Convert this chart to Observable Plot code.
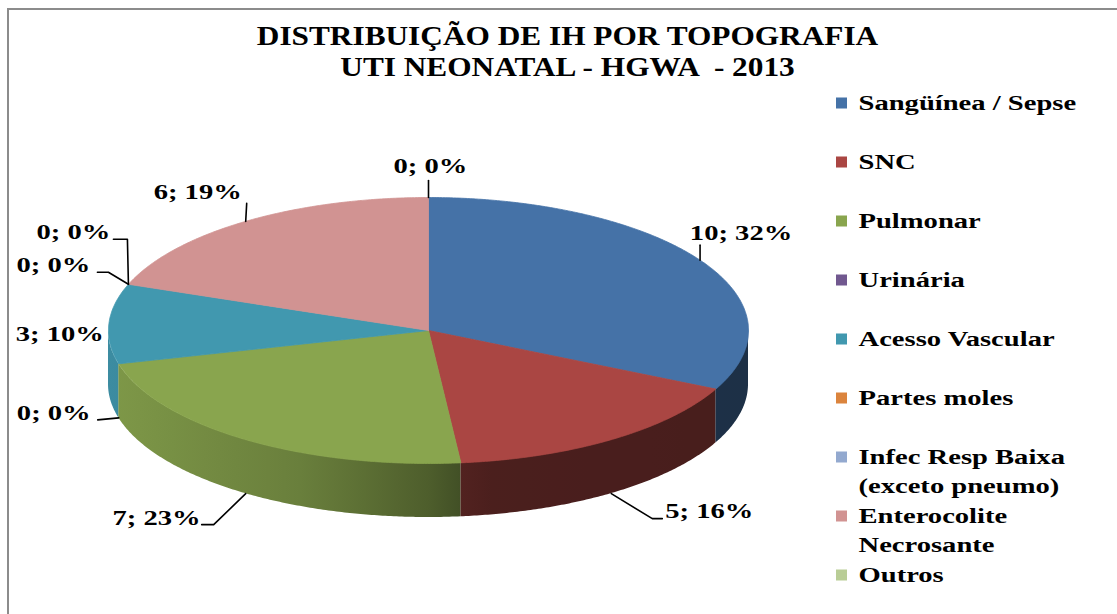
<!DOCTYPE html>
<html><head><meta charset="utf-8">
<script src="https://cdn.jsdelivr.net/npm/d3@7"></script>
<script src="https://cdn.jsdelivr.net/npm/@observablehq/plot@0.6"></script>
<style>
html,body{margin:0;padding:0;background:#fff;}
#wrap{position:relative;width:1117px;height:614px;overflow:hidden;background:#fff;}
#frame{position:absolute;left:7px;top:8px;width:1300px;height:800px;border-left:2px solid #8c8c8c;border-top:2px solid #8c8c8c;}
#wrap svg{position:absolute;left:0;top:0;}
</style></head>
<body><div id="wrap"><div id="frame"></div></div>
<script>
// ---- data ----
const categories = ["Sangüínea / Sepse","SNC","Pulmonar","Urinária","Acesso Vascular","Partes moles","Infec Resp Baixa (exceto pneumo)","Enterocolite Necrosante","Outros"];
const values = [10,5,7,0,3,0,0,6,0];
const legendLabels = ["Sangüínea / Sepse","SNC","Pulmonar","Urinária","Acesso Vascular","Partes moles","Infec Resp Baixa\n(exceto pneumo)","Enterocolite\nNecrosante","Outros"];
const colors = ["#4572A7","#AA4643","#89A54E","#71588F","#4198AF","#DB843D","#93A9CF","#D19392","#B9CD96"];
const titleLines = ["DISTRIBUIÇÃO DE IH POR TOPOGRAFIA","UTI NEONATAL - HGWA  - 2013"];

// ---- layout ----
const W = 1117, H = 614;
const cx = 428, cy = 330, rx = 320, ry = 133, depth = 54;
const font = "'Liberation Serif','Times New Roman',serif";
const labelLayout = [
  {dx: 41, dy: -27, anchor: "middle", leader: [[0,-15]]},
  {dx: 54, dy: 17, anchor: "start", leader: [[41,25],[51,25]]},
  {dx: -45, dy: 24, anchor: "end", leader: [[-32,31],[-44,31]]},
  {dx: -28, dy: -5, anchor: "end", leader: [[-21,2]]},
  {dx: -5, dy: 10, anchor: "end", leader: []},
  {dx: -38, dy: -19, anchor: "end", leader: [[-20,-12],[-31,-12]]},
  {dx: -18, dy: -52, anchor: "end", leader: [[-1,-45],[-15,-45]]},
  {dx: -48, dy: -29, anchor: "middle", leader: [[1,-18]]},
  {dx: 2, dy: -32, anchor: "middle", leader: [[0,-17]]}
];
const legX = 836, legSize = 11, legY0 = 103, legStep = 59.0, legTextX = 858;

const total = d3.sum(values);
const arcs = d3.pie().sort(null).value(d => d)(values);
const px = a => cx + rx * Math.sin(a);
const py = a => cy - ry * Math.cos(a);

// top faces
const tops = [];
arcs.forEach((a, i) => {
  const span = a.endAngle - a.startAngle;
  if (span <= 0) return;
  const n = Math.max(2, Math.ceil(span / (Math.PI / 360)));
  tops.push({id: i, x: cx, y: cy, c: colors[i]});
  for (let k = 0; k <= n; k++) {
    const t = a.startAngle + span * k / n;
    tops.push({id: i, x: px(t), y: py(t), c: colors[i]});
  }
  tops.push({id: i, x: cx, y: cy, c: colors[i]});
});

// side walls (front half) with horizontal lighting gradient
const shade = d3.scaleLinear().domain([-1, -0.4, 0, 0.15, 1]).range([0.92, 0.77, 0.57, 0.44, 0.42]).clamp(true);
const wallSlices = [];
arcs.forEach((a, i) => {
  const s = Math.max(a.startAngle, Math.PI / 2), e = Math.min(a.endAngle, 3 * Math.PI / 2);
  if (e <= s) return;
  const n = Math.max(2, Math.ceil((e - s) / (Math.PI / 360)));
  const pts = d3.range(n + 1).map(k => {
    const t = s + (e - s) * k / n;
    return {x: px(t), y1: py(t), y2: py(t) + depth};
  });
  wallSlices.push({i, pts});
});
const gradientDefs = () => {
  const defs = d3.create("svg:defs");
  colors.forEach((col, i) => {
    const base = d3.rgb(col);
    const g = defs.append("linearGradient").attr("id", `wall${i}`)
      .attr("gradientUnits", "userSpaceOnUse")
      .attr("x1", cx - rx).attr("x2", cx + rx).attr("y1", 0).attr("y2", 0);
    d3.range(0, 1.0001, 0.05).forEach(o => {
      const f = shade(o * 2 - 1);
      g.append("stop").attr("offset", o).attr("stop-color", d3.rgb(base.r * f, base.g * f, base.b * f).formatHex());
    });
  });
  return defs.node();
};

// data labels
const labels = arcs.map((a, i) => {
  const mid = (a.startAngle + a.endAngle) / 2;
  const front = Math.cos(mid) < 0;
  const ax = px(mid), ay = py(mid) + (front ? depth : 0);
  const L = labelLayout[i];
  return {i, ax, ay, x: ax + L.dx, y: ay + L.dy, anchor: L.anchor,
          text: `${values[i]}; ${Math.round(values[i] / total * 100)}%`};
});
const leaders = [];
labels.forEach((l, i) => {
  const pts = labelLayout[i].leader;
  if (!pts.length) return;
  leaders.push({id: i, x: l.ax, y: l.ay});
  pts.forEach(([dx, dy]) => leaders.push({id: i, x: l.ax + dx, y: l.ay + dy}));
});

const txt = {fontFamily: font, fontWeight: "bold", fill: "#000"};

const chart = Plot.plot({
  width: W, height: H, margin: 0,
  x: {domain: [0, W], range: [0, W], axis: null},
  y: {domain: [0, H], range: [0, H], axis: null},
  color: {type: "identity"},
  style: {background: "transparent", overflow: "visible"},
  marks: [
    gradientDefs,
    ...wallSlices.map(w => Plot.areaY(w.pts, {x: "x", y1: "y1", y2: "y2", fill: `url(#wall${w.i})`})),
    Plot.line(tops, {x: "x", y: "y", z: "id", fill: "c", stroke: "c", strokeWidth: 0.8, curve: "linear"}),
    Plot.line(leaders, {x: "x", y: "y", z: "id", stroke: "#000", strokeWidth: 1.6, curve: "linear"}),
    ...["start", "middle", "end"].map(an =>
      Plot.text(labels.filter(l => l.anchor === an), {x: "x", y: "y", text: "text", textAnchor: an, lineAnchor: "middle", fontSize: 22, ...txt})),
    Plot.rect(categories, {x1: () => legX, x2: () => legX + legSize, y1: (d, i) => legY0 + i * legStep - legSize / 2, y2: (d, i) => legY0 + i * legStep + legSize / 2, fill: (d, i) => colors[i]}),
    Plot.text(legendLabels, {x: () => legTextX, y: (d, i) => legY0 + i * legStep - 13.4, text: d => d, textAnchor: "start", lineAnchor: "top", lineHeight: 1.3, fontSize: 22, ...txt}),
    Plot.text(titleLines, {x: () => 567, y: (d, i) => 36 + i * 31, text: d => d, textAnchor: "middle", lineAnchor: "middle", fontSize: 27, ...txt})
  ]
});

// horizontal stretch of the text, as in the reference
chart.querySelectorAll("text").forEach(t => {
  const s = titleLines.includes(t.textContent) ? 1.16 : 1.3;
  const tr = t.getAttribute("transform");
  if (tr) t.setAttribute("transform", tr + ` scale(${s},1)`);
  else {
    const x = +t.getAttribute("x") || 0, y = +t.getAttribute("y") || 0;
    t.removeAttribute("x"); t.removeAttribute("y");
    t.querySelectorAll("tspan[x]").forEach(ts => ts.setAttribute("x", 0));
    t.setAttribute("transform", `translate(${x},${y}) scale(${s},1)`);
  }
});
document.getElementById("wrap").appendChild(chart);
</script>
</body></html>
